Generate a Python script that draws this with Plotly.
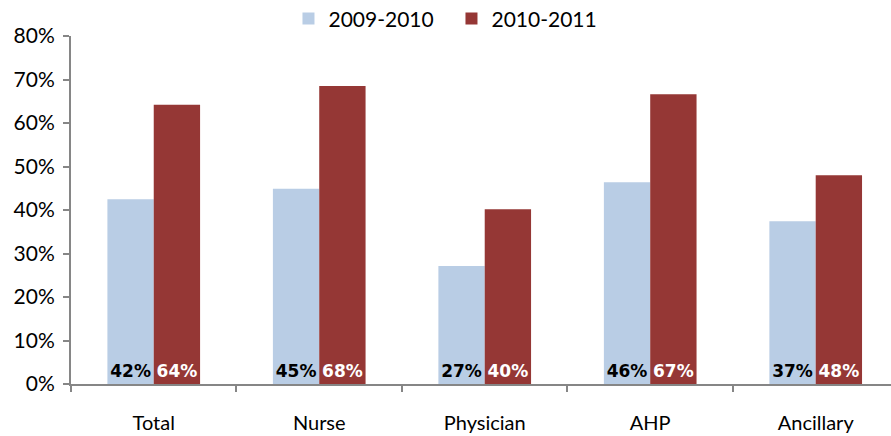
import plotly.graph_objects as go

categories = ["Total", "Nurse", "Physician", "AHP", "Ancillary"]
series_names = ["2009-2010", "2010-2011"]
values_2009_2010 = [42.5, 44.9, 27.1, 46.4, 37.4]
values_2010_2011 = [64.2, 68.5, 40.2, 66.6, 48.0]
labels_2009_2010 = ["42%", "45%", "27%", "46%", "37%"]
labels_2010_2011 = ["64%", "68%", "40%", "67%", "48%"]
y_ticks = [0, 10, 20, 30, 40, 50, 60, 70, 80]
y_tick_labels = ["0%", "10%", "20%", "30%", "40%", "50%", "60%", "70%", "80%"]

colors = ["#B9CDE5", "#953735"]
label_colors = ["#000000", "#FFFFFF"]

fig = go.Figure()
for name, vals, labs, col, lcol in zip(
    series_names,
    [values_2009_2010, values_2010_2011],
    [labels_2009_2010, labels_2010_2011],
    colors,
    label_colors,
):
    fig.add_trace(go.Bar(
        x=categories, y=vals, name=name, text=labs,
        textposition="inside", insidetextanchor="start",
        textangle=0, constraintext="none",
        textfont=dict(family="DejaVu Sans", size=17, color=lcol, weight="bold"),
        marker=dict(color=col, line=dict(width=0)),
        cliponaxis=False, hoverinfo="x+y",
    ))

fig.update_layout(
    width=891, height=436,
    margin=dict(l=71, r=0, t=36, b=52, autoexpand=False),
    barmode="group", bargap=0.44, bargroupgap=0,
    plot_bgcolor="white", paper_bgcolor="white",
    font=dict(family="Lato", size=18, color="#000000"),
    uniformtext=dict(mode=False),
    legend=dict(
        orientation="h", x=0.464, xanchor="center",
        yref="container", y=0.957, yanchor="middle",
        font=dict(size=21), traceorder="normal",
        bgcolor="rgba(0,0,0,0)", entrywidth=118, entrywidthmode="pixels",
    ),
    xaxis=dict(
        range=[-0.5, 4.455], showline=True, linecolor="#868686", linewidth=2,
        ticks="outside", tickson="boundaries", ticklen=6, tickcolor="#868686",
        tickwidth=2, tickfont=dict(size=20), showgrid=False,
        automargin=False, ticklabelstandoff=20,
    ),
    yaxis=dict(
        range=[0, 80], tickvals=y_ticks, ticktext=y_tick_labels,
        showline=True, linecolor="#868686", linewidth=2,
        ticks="outside", ticklen=6, tickcolor="#868686", tickwidth=2,
        tickfont=dict(size=21), showgrid=False, zeroline=False,
        automargin=False, ticklabelstandoff=4,
    ),
)

fig.write_html(
    "out.html",
    config={"displayModeBar": False},
    post_script="document.body.style.margin='0';document.body.style.padding='0';",
)
